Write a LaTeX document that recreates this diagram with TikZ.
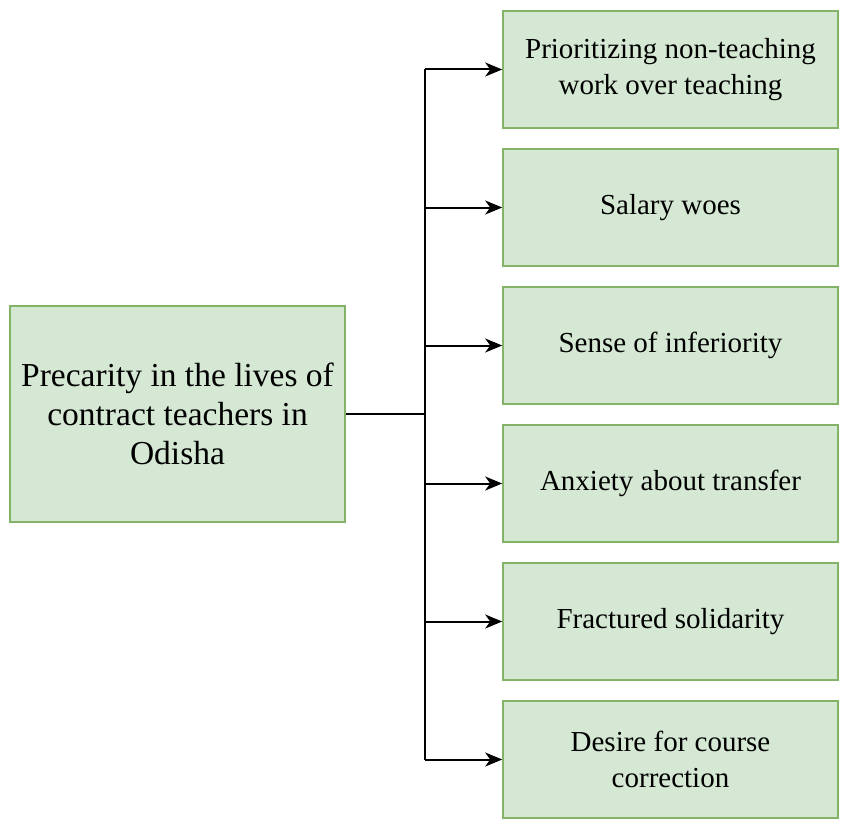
\documentclass[tikz,border=0pt]{standalone}
\usepackage{fontspec}
\setmainfont{Liberation Serif}
\usetikzlibrary{arrows.meta}
\begin{document}
\begin{tikzpicture}[x=1pt,y=-1pt,
  box/.style={draw={rgb,255:red,130;green,179;blue,102},fill={rgb,255:red,213;green,232;blue,212},line width=1.6pt,minimum width=335pt,minimum height=117pt,align=center,font=\fontsize{29}{36}\selectfont},
  lbox/.style={box,minimum height=216pt,font=\fontsize{33.5}{39}\selectfont},
  conn/.style={line width=2pt},
  arr/.style={conn,-{Stealth[length=17pt,width=14pt,inset=5pt]}}]
\useasboundingbox (0,0) rectangle (851,832);
\node[lbox] (L) at (177.5,414) {Precarity in the lives of\\contract teachers in\\Odisha};
\node[box] (b1) at (670.5,69.5) {Prioritizing non-teaching\\work over teaching};
\node[box] (b2) at (670.5,207.5) {Salary woes};
\node[box] (b3) at (670.5,345.5) {Sense of inferiority};
\node[box] (b4) at (670.5,483.5) {Anxiety about transfer};
\node[box] (b5) at (670.5,621.5) {Fractured solidarity};
\node[box] (b6) at (670.5,759.5) {Desire for course\\correction};
\coordinate (t) at (425,414);
\coordinate (t1) at (425,69.5);
\coordinate (t6) at (425,759.5);
\draw[conn] (L.east) -- (t);
\draw[conn] (t1) -- (t6);
\foreach \i in {1,...,6}{\draw[arr] (b\i.west -| t) -- (b\i.west);}
\end{tikzpicture}
\end{document}
